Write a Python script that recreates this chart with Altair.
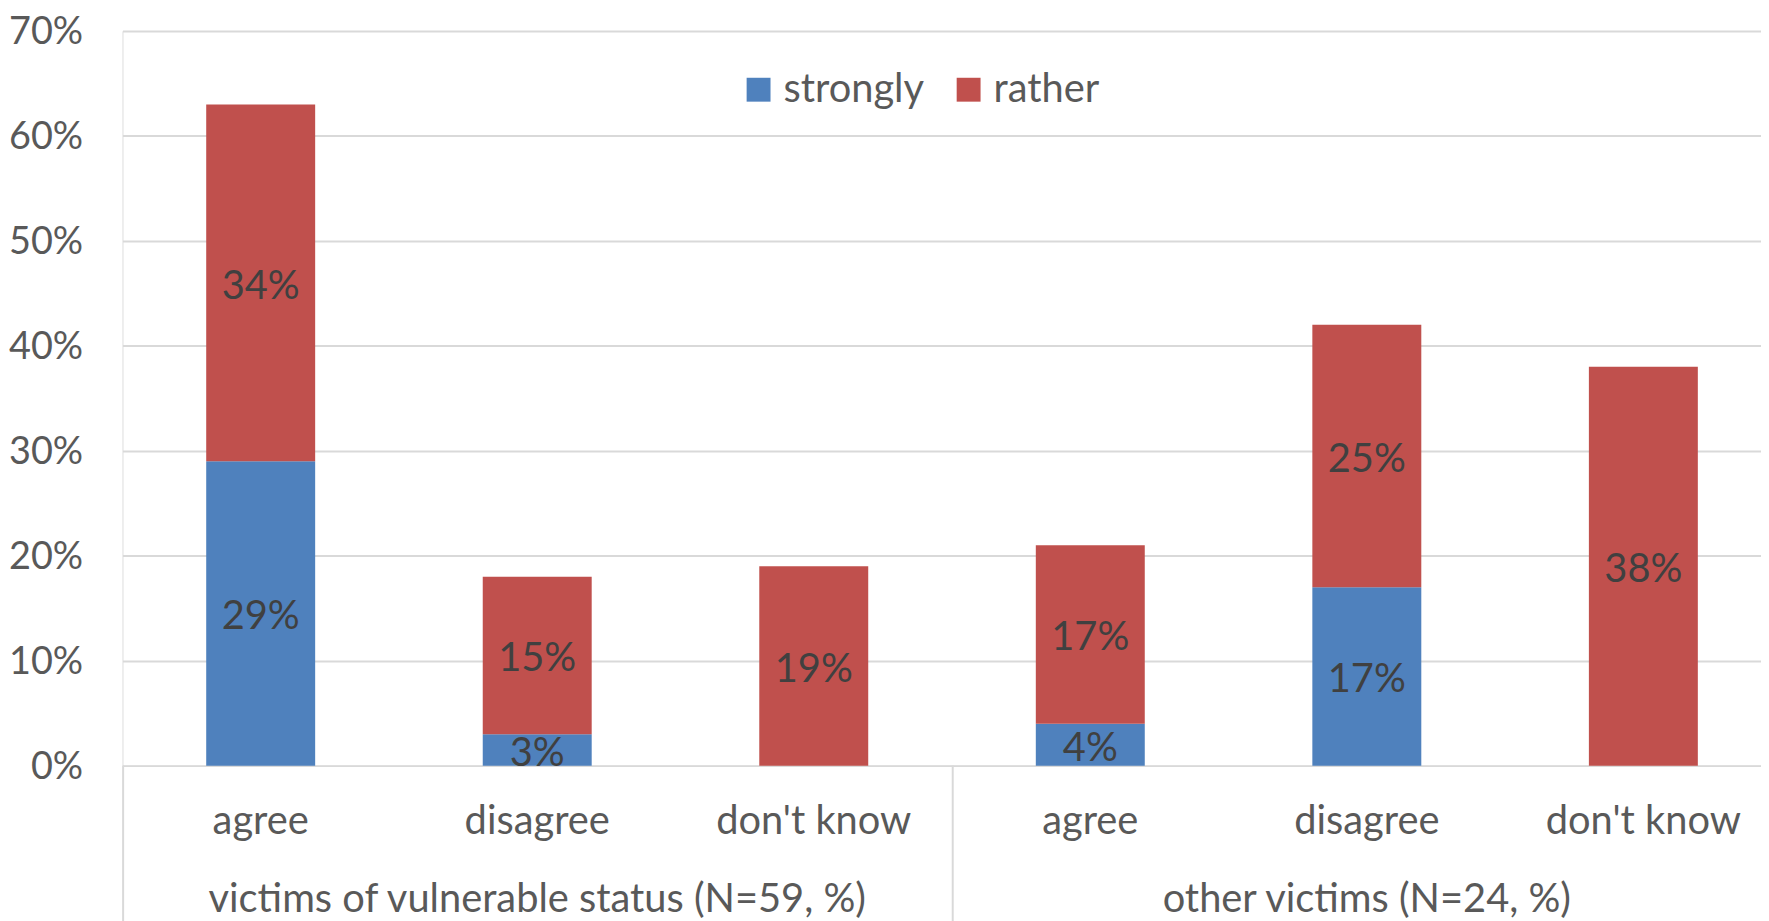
import altair as alt
import pandas as pd

# ---- data ----
group_ids = ["vuln", "other"]
group_names = ["victims of vulnerable status (N=59, %)", "other victims (N=24, %)"]
answers = ["agree", "disagree", "don't know"]
levels = ["strongly", "rather"]
strongly = [29, 3, 0, 4, 17, 0]
rather = [34, 15, 19, 17, 25, 38]
colors = ["#4F81BD", "#C0504D"]
y_ticks = [0, 0.1, 0.2, 0.3, 0.4, 0.5, 0.6, 0.7]

keys = [f"{g}|{a}" for g in group_ids for a in answers]

rows = []
for i, k in enumerate(keys):
    start = 0
    for lvl, vals in zip(levels, [strongly, rather]):
        v = vals[i]
        if v > 0:
            rows.append(dict(key=k, level=lvl, order=levels.index(lvl),
                             y0=start / 100, y1=(start + v) / 100,
                             mid=(start + v / 2) / 100, label=f"{v}%"))
        start += v
df = pd.DataFrame(rows)

cat_df = pd.DataFrame({"key": keys, "answer": answers * len(group_ids)})
grp_df = pd.DataFrame({"key": [f"{g}|disagree" for g in group_ids], "label": group_names})
sep_df = pd.DataFrame({"key": [f"{g}|agree" for g in group_ids]})

PLOT_H = 738
FONT = "Lato"

xscale = alt.Scale(domain=keys, paddingInner=0.606, paddingOuter=0.2656, align=0.57, round=False)

bars = alt.Chart(df).mark_bar().encode(
    x=alt.X("key:N", scale=xscale, axis=None, sort=keys),
    y=alt.Y("y0:Q", scale=alt.Scale(domain=[0, 0.7], nice=False),
            axis=alt.Axis(values=y_ticks, format=".0%", title=None, domain=False, ticks=False,
                          labelFontSize=38, labelFont=FONT, labelColor="#595959",
                          labelPadding=40, labelOffset=2, gridColor="#D9D9D9", gridWidth=2)),
    y2="y1:Q",
    color=alt.Color("level:N", scale=alt.Scale(domain=levels, range=colors),
                    legend=alt.Legend(title=None, orient="none", legendX=619, legendY=39,
                                      direction="horizontal", symbolType="square",
                                      symbolSize=576, symbolStrokeWidth=0,
                                      labelFontSize=40, labelFont=FONT, labelColor="#595959",
                                      labelOffset=5, columnPadding=24, padding=0)),
    order=alt.Order("order:Q"),
)

labels = alt.Chart(df).mark_text(fontSize=40, font=FONT, color="#404040",
                                 baseline="middle", align="center", dy=4).encode(
    x=alt.X("key:N", sort=keys),
    y=alt.Y("mid:Q"),
    text="label:N",
)

cats = alt.Chart(cat_df).mark_text(fontSize=40, font=FONT, color="#595959",
                                   baseline="alphabetic", align="center").encode(
    x=alt.X("key:N", sort=keys),
    y=alt.value(PLOT_H + 69),
    text="answer:N",
)

grps = alt.Chart(grp_df).mark_text(fontSize=40, font=FONT, color="#595959",
                                   baseline="alphabetic", align="center").encode(
    x=alt.X("key:N", sort=keys),
    y=alt.value(PLOT_H + 147),
    text="label:N",
)

seps = alt.Chart(sep_df).mark_rule(color="#D9D9D9", strokeWidth=2, xOffset=-138.2).encode(
    x=alt.X("key:N", sort=keys),
    y=alt.value(PLOT_H),
    y2=alt.value(PLOT_H + 200),
)

chart = alt.layer(bars, seps, labels, cats, grps).properties(
    width=1646, height=PLOT_H,
    autosize=alt.AutoSizeParams(type="none"),
    padding={"left": 115, "top": 21, "right": 0, "bottom": 154},
).configure_view(stroke=None).configure(background="white")

chart.save("out.html", embed_options={"renderer": "svg", "actions": False})
